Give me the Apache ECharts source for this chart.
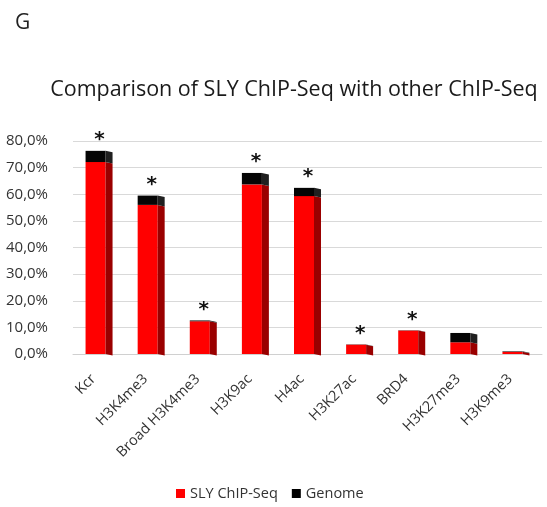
<!DOCTYPE html>
<html>
<head>
<meta charset="utf-8">
<script src="https://cdn.jsdelivr.net/npm/echarts@6/dist/echarts.min.js"></script>
<style>
html, body { margin: 0; padding: 0; background: #fff; }
#chart { width: 547px; height: 507px; }
</style>
</head>
<body>
<div id="chart"></div>
<script>
var categories = ['Kcr', 'H3K4me3', 'Broad H3K4me3', 'H3K9ac', 'H4ac', 'H3K27ac', 'BRD4', 'H3K27me3', 'H3K9me3'];
var slyValues = [72.1, 56.0, 12.3, 63.7, 59.3, 3.5, 8.8, 4.4, 0.8];
var genomeValues = [4.2, 3.5, 0.3, 4.3, 3.1, 0.1, 0.1, 3.5, 0.2];
var significant = [1, 1, 1, 1, 1, 1, 1, 0, 0];
var yTicks = [0, 10, 20, 30, 40, 50, 60, 70, 80];

var chart = echarts.init(document.getElementById('chart'));

// rows for custom series: [index, from, to]
var slyRows = slyValues.map(function (v, i) { return [i, 0, v]; });
var genomeRows = genomeValues.map(function (v, i) { return [i, slyValues[i], slyValues[i] + v]; });

function makeRender(front, side, withStar) {
    return function (params, api) {
        var idx = api.value(0);
        var top = api.coord([idx, api.value(2)]);
        var bot = api.coord([idx, api.value(1)]);
        var x0 = top[0] - 13.5;
        var h = bot[1] - top[1];
        var kids = [
            { type: 'rect', shape: { x: x0, y: top[1], width: 20, height: h }, style: { fill: front } },
            { type: 'polygon', shape: { points: [[x0 + 20, top[1]], [x0 + 27, top[1] + 1.5], [x0 + 27, bot[1] + 1.5], [x0 + 20, bot[1]]] }, style: { fill: side } }
        ];
        if (withStar && significant[idx]) {
            kids.push({
                type: 'text',
                style: { text: '*', x: top[0] + 0.5, y: top[1] - 1, align: 'center', verticalAlign: 'bottom', fill: '#111', font: 'bold 20px "DejaVu Sans"' }
            });
        }
        return { type: 'group', children: kids };
    };
}

chart.setOption({
    animation: false,
    backgroundColor: '#fff',
    title: [
        { text: 'G', left: 10, top: 8, textStyle: { fontFamily: 'Open Sans', fontWeight: 'normal', fontSize: 21, color: '#222' } },
        { text: 'Comparison of SLY ChIP-Seq with other ChIP-Seq', left: 289, textAlign: 'center', top: 74, textStyle: { fontFamily: 'Open Sans', fontWeight: 'normal', fontSize: 21.5, color: '#1a1a1a' } }
    ],
    legend: {
        bottom: 1,
        left: 171,
        itemWidth: 9,
        itemHeight: 9,
        itemGap: 14,
        icon: 'rect',
        textStyle: { fontFamily: 'Open Sans', fontSize: 14.5, color: '#333' },
        data: ['SLY ChIP-Seq', 'Genome']
    },
    grid: { left: 73, right: 5, top: 141, bottom: 153 },
    xAxis: {
        type: 'category',
        data: categories,
        axisLine: { show: true, lineStyle: { color: '#d0d0d0' } },
        axisTick: { show: false },
        axisLabel: { rotate: 45, margin: 17, padding: [0, 8, 0, 0], fontFamily: 'Open Sans', fontSize: 14.5, color: '#333', interval: 0 }
    },
    yAxis: {
        type: 'value',
        min: yTicks[0],
        max: yTicks[yTicks.length - 1],
        interval: 10,
        axisLine: { show: false },
        axisTick: { show: false },
        splitLine: { lineStyle: { color: '#d9d9d9' } },
        axisLabel: {
            margin: 25,
            fontFamily: 'Open Sans',
            fontSize: 15,
            color: '#333',
            formatter: function (v) { return v.toFixed(1).replace('.', ',') + '%'; }
        }
    },
    series: [
        {
            name: 'SLY ChIP-Seq',
            type: 'custom',
            itemStyle: { color: '#ff0000' },
            renderItem: makeRender('#ff0000', '#9a0000', false),
            encode: { x: 0, y: [1, 2] },
            data: slyRows
        },
        {
            name: 'Genome',
            type: 'custom',
            itemStyle: { color: '#000000' },
            renderItem: makeRender('#050505', '#202020', true),
            encode: { x: 0, y: [1, 2] },
            data: genomeRows
        }
    ]
});
</script>
</body>
</html>
